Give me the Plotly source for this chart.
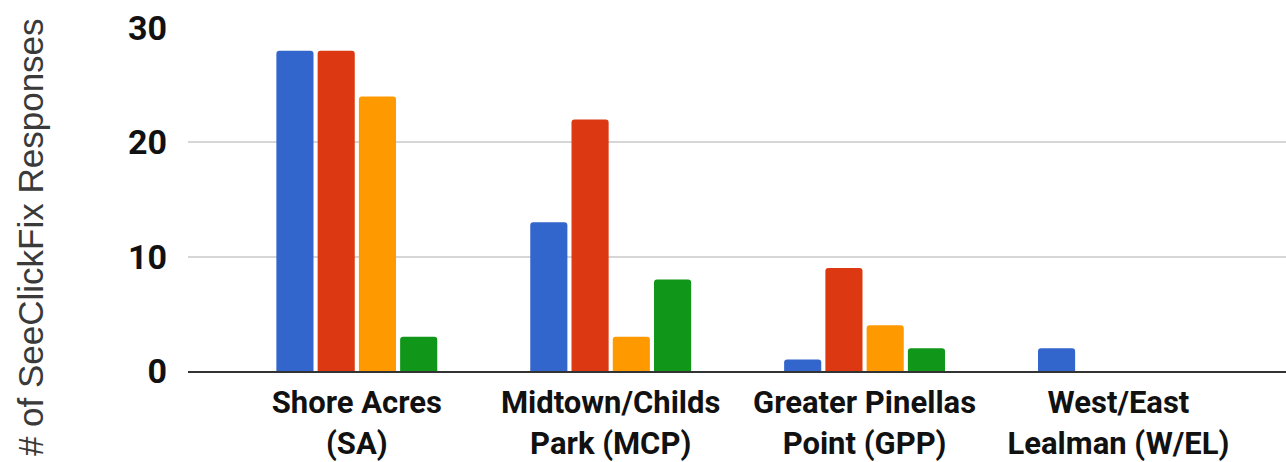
import plotly.graph_objects as go

# Neighbourhood groups on the x axis (two-line labels)
categories = [
    "Shore Acres<br>(SA)",
    "Midtown/Childs<br>Park (MCP)",
    "Greater Pinellas<br>Point (GPP)",
    "West/East<br>Lealman (W/EL)",
]

# Response counts for the four series in each neighbourhood
series_1 = [28, 13, 1, 2]
series_2 = [28, 22, 9, 0]
series_3 = [24, 3, 4, 0]
series_4 = [3, 8, 2, 0]

colors = ["#3366cc", "#dc3912", "#ff9900", "#109618"]
y_ticks = [0, 10, 20, 30]
y_title = "# of SeeClickFix Responses"

fig = go.Figure()
for vals, col in zip([series_1, series_2, series_3, series_4], colors):
    fig.add_trace(go.Bar(
        x=categories, y=vals,
        marker=dict(color=col, cornerradius=3, line=dict(width=0)),
        showlegend=False,
    ))

fig.update_layout(
    width=1286, height=462,
    margin=dict(l=188, r=0, t=28, b=91),
    paper_bgcolor="white", plot_bgcolor="white",
    barmode="group", bargap=0.35, bargroupgap=0.1,
    font=dict(family="Roboto", color="#111111"),
    xaxis=dict(
        range=[-0.665, 3.66],
        showgrid=False,
        showline=True, linecolor="#333333", linewidth=2,
        tickfont=dict(size=31, weight="bold", color="#111111"),
        ticks="", ticklabelstandoff=3,
    ),
    yaxis=dict(
        range=[0, 30], tickvals=y_ticks,
        showgrid=True, gridcolor="#d6d6d6", gridwidth=2,
        zeroline=False,
        tickfont=dict(size=34, weight="bold", color="#111111"),
        ticks="", ticklabelstandoff=20,
    ),
    annotations=[dict(
        text=y_title, textangle=-90,
        xref="paper", yref="paper", x=-0.144, y=0.39,
        xanchor="center", yanchor="middle", showarrow=False,
        font=dict(family="Liberation Sans, Arial", size=35, color="#3a3a3a"),
    )],
)

fig.write_html("out.html")
